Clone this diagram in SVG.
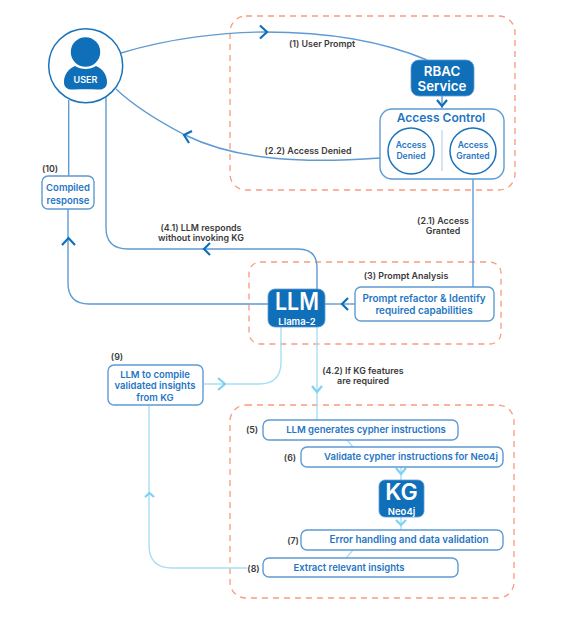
<svg xmlns="http://www.w3.org/2000/svg" width="563" height="618" viewBox="0 0 563 618">
<defs>
<style>
text{font-family:"Inter","Noto Sans",sans-serif;text-anchor:middle;dominant-baseline:central}
.zone{fill:none;stroke:#f79a80;stroke-width:1.3;stroke-dasharray:6 5}
.box{fill:#fff;stroke:#5f9bd3;stroke-width:1.4}
.solid{fill:#0f6fb9;stroke:#5f9bd3;stroke-width:.8}
.ring{fill:#fff;stroke:#1a73bb;stroke-width:1.5}
.line{fill:none;stroke:#5f9bd3;stroke-width:1.4}
.pale{fill:none;stroke:#a8def6;stroke-width:1.4}
.chev{fill:none;stroke:#0f6fb9;stroke-width:2.2}
.chevp{fill:none;stroke:#7fd0f2;stroke-width:2.2}
.lab{fill:#3b3b3b;font-size:8.9px;font-weight:600}
.t{fill:#1f76c4;font-size:9.5px;font-weight:600}
.w{fill:#fff;font-weight:600}
</style>
</defs>
<rect width="563" height="618" fill="#fff"/>
<g id="zones">
<rect class="zone" x="230" y="16" width="285" height="174" rx="16"/>
<rect class="zone" x="249" y="262" width="252" height="82" rx="11"/>
<rect class="zone" x="230" y="405" width="284" height="193" rx="16"/>
</g>
<g id="connectors">
<path class="line" d="M121 53C170 38 225 32 265 32C320 32 375 38 427 60"/>
<path class="line" d="M380 158C310 163 240 162 185 135C160 122 135 107 116 89"/>
<path class="line" d="M442 96V108"/>
<path class="line" d="M473 179V287"/>
<path class="line" d="M68.700 100V176"/>
<path class="line" d="M68 209V283Q68 304 89 304H268"/>
<path class="line" d="M106 97V228Q106 249 128 249H298Q317 249 317 268V289"/>
<path class="line" d="M355 304H325"/>
<path class="pale" d="M281 327V362Q281 384 259 384H204"/>
<path class="pale" d="M317 327V420"/>
<path class="pale" d="M347 440L353 447"/>
<path class="pale" d="M401 467V480"/>
<path class="pale" d="M401 517V530"/>
<path class="pale" d="M353 550L346 558"/>
<path class="pale" d="M247 568H172Q149 568 149 545V405"/>
<path class="chev" d="M260 25.500L267 32L260 38.500"/>
<path class="chev" d="M192 131L184 135L189 143"/>
<path class="chev" d="M437 100L442 106L447 100"/>
<path class="chev" d="M62 245L68.500 238L75 245"/>
<path class="chev" d="M210 243L204 249L210 255"/>
<path class="chev" d="M348 298L342 304L348 310"/>
<path class="chevp" d="M218 378L225 384L218 390"/>
<path class="chevp" d="M312 386L317 392L322 386"/>
<path class="chevp" d="M396 468L401 474L406 468"/>
<path class="chevp" d="M396 520L401 525L406 520"/>
<path class="chevp" d="M145 497L149.500 493L154 497"/>
</g>
<g id="user">
<circle class="ring" cx="85.700" cy="65.700" r="37"/>
<circle cx="85.500" cy="52" r="14.700" fill="#0f6fb9"/>
<path fill="#0f6fb9" d="M75 66C68 69 64 75 64 82C64 88 68 90 74 89.500C82 89 90 89 97 89.500C103 90 107 88 107 82C107 75 103 69 96 66C90 70 81 70 75 66Z"/>
<text class="w" x="85.500" y="79" font-size="9">USER</text>
</g>
<g id="rbac">
<rect class="solid" x="411" y="60" width="63" height="36" rx="8"/>
<text class="w" x="442" y="71" font-size="13.300">RBAC</text>
<text class="w" x="442" y="86" font-size="13.300">Service</text>
</g>
<g id="access-control">
<rect class="box" x="380" y="109" width="124" height="70" rx="12"/>
<text class="t" x="441" y="117.500" style="font-size:12px">Access Control</text>
<path d="M442 130V171" stroke="#c8d8ec" stroke-width="1.400"/>
<circle class="ring" cx="411" cy="151" r="23"/>
<text class="t" x="411" y="144.500" style="font-size:8.600px">Access</text>
<text class="t" x="411" y="155.500" style="font-size:8.600px">Denied</text>
<circle class="ring" cx="473" cy="151" r="23"/>
<text class="t" x="473" y="144.500" style="font-size:8.600px">Access</text>
<text class="t" x="473" y="155.500" style="font-size:8.600px">Granted</text>
</g>
<g id="compiled">
<rect class="box" x="42" y="176" width="52" height="33" rx="6"/>
<text class="t" x="68" y="187.500">Compiled</text>
<text class="t" x="68" y="200">response</text>
</g>
<g id="llm">
<rect class="solid" x="268" y="289" width="57" height="38" rx="7"/>
<text class="w" x="297" y="301" font-size="24" textLength="44" lengthAdjust="spacingAndGlyphs">LLM</text>
<text class="w" x="297" y="321" font-size="9.500">Llama-2</text>
</g>
<g id="prompt">
<rect class="box" x="355" y="287" width="139" height="34" rx="6"/>
<text class="t" x="424" y="298" style="font-size:9.900px">Prompt refactor  &amp; Identify</text>
<text class="t" x="424" y="310" style="font-size:9.900px">required capabilities</text>
</g>
<g id="compile">
<rect class="box" x="108" y="365" width="95" height="40" rx="6"/>
<text class="t" x="155" y="374">LLM to compile</text>
<text class="t" x="155" y="385.500">validated insights</text>
<text class="t" x="155" y="397">from KG</text>
</g>
<g id="step5">
<rect class="box" x="263" y="420" width="195" height="20" rx="6"/>
<text class="t" x="366" y="429">LLM generates cypher instructions</text>
</g>
<g id="step6">
<rect class="box" x="301" y="447" width="202" height="20" rx="6"/>
<text class="t" x="411" y="456">Validate cypher instructions for Neo4j</text>
</g>
<g id="kg">
<rect class="solid" x="379" y="480" width="45" height="37" rx="6"/>
<text class="w" x="401.500" y="491.500" font-size="23">KG</text>
<text class="w" x="401.500" y="511" font-size="9.500">Neo4j</text>
</g>
<g id="step7">
<rect class="box" x="301" y="530" width="202" height="20" rx="6"/>
<text class="t" x="409" y="539" style="font-size:9.800px">Error handling and data validation</text>
</g>
<g id="step8">
<rect class="box" x="263" y="558" width="195" height="19" rx="6"/>
<text class="t" x="349" y="567">Extract relevant insights</text>
</g>
<g id="labels">
<text class="lab" x="322" y="43.500">(1) User Prompt</text>
<text class="lab" x="308" y="150">(2.2) Access Denied</text>
<text class="lab" x="443" y="220">(2.1) Access</text>
<text class="lab" x="443" y="230.500">Granted</text>
<text class="lab" x="406" y="275.500">(3) Prompt Analysis</text>
<text class="lab" x="201" y="227">(4.1) LLM responds</text>
<text class="lab" x="201" y="237.500">without invoking KG</text>
<text class="lab" x="363" y="370">(4.2) If KG features</text>
<text class="lab" x="363" y="380.500">are required</text>
<text class="lab" x="50" y="168">(10)</text>
<text class="lab" x="117" y="356">(9)</text>
<text class="lab" x="252" y="429">(5)</text>
<text class="lab" x="290" y="457">(6)</text>
<text class="lab" x="293" y="540">(7)</text>
<text class="lab" x="253.500" y="568">(8)</text>
</g>
</svg>
